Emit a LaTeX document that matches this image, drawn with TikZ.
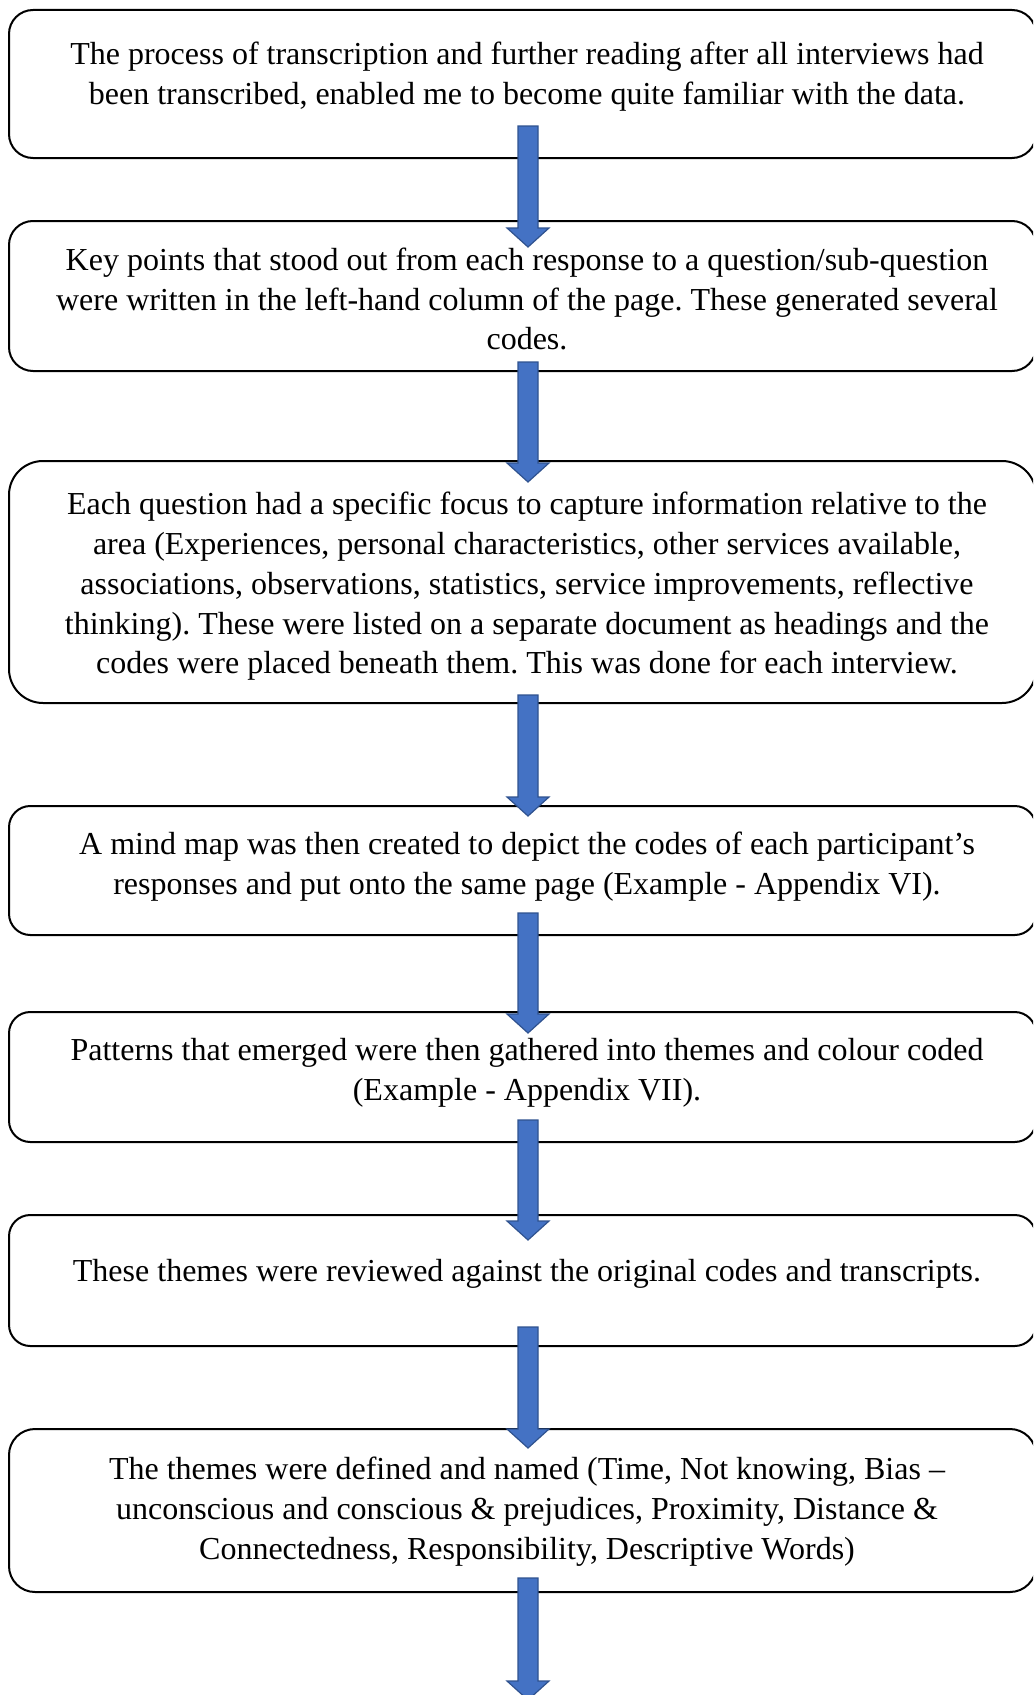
\documentclass[tikz,border=0pt]{standalone}
\usepackage{fontspec}
\setmainfont{Liberation Serif}
\usetikzlibrary{calc}
\definecolor{arrowfill}{HTML}{4472C4}
\definecolor{arrowline}{HTML}{2F528F}
\frenchspacing
\begin{document}
\begin{tikzpicture}[x=0.75pt,y=-0.75pt,
  stepbox/.style={draw=black, line width=1.5pt, fill=white, rectangle, minimum width=770.25pt, inner sep=0pt},
  steptext/.style={align=center, inner sep=0pt, font=\fontsize{24}{29.8}\selectfont},
  blockarrow/.style={draw=arrowline, line width=0.9pt, fill=arrowfill, line join=miter,
    to path={($(\tikztostart)+(-10,0)$) -- ($(\tikztotarget)+(-10,-19)$) -- ($(\tikztotarget)+(-21,-19)$) -- (\tikztotarget) -- ($(\tikztotarget)+(21,-19)$) -- ($(\tikztotarget)+(10,-19)$) -- ($(\tikztostart)+(10,0)$) -- cycle}}
]
\useasboundingbox (0,0) rectangle (1033,1695);
\clip (0,0) rectangle (1033,1695);

% boxes
\node[stepbox, rounded corners=18pt, minimum height=111pt] (b1) at (522.5,84) {};
\node[stepbox, rounded corners=18pt, minimum height=112.5pt] (b2) at (522.5,296) {};
\node[stepbox, rounded corners=25.5pt, minimum height=181.5pt] (b3) at (522.5,582) {};
\node[stepbox, rounded corners=16pt, minimum height=96.75pt] (b4) at (522.5,870.5) {};
\node[stepbox, rounded corners=16pt, minimum height=97.5pt] (b5) at (522.5,1077) {};
\node[stepbox, rounded corners=16pt, minimum height=98.25pt] (b6) at (522.5,1280.5) {};
\node[stepbox, rounded corners=19.5pt, minimum height=122.25pt] (b7) at (522.5,1510.5) {};

% arrow end points
\coordinate (a1s) at (528,126);  \coordinate (a1e) at (528,247);
\coordinate (a2s) at (528,362);  \coordinate (a2e) at (528,482);
\coordinate (a3s) at (528,695);  \coordinate (a3e) at (528,816);
\coordinate (a4s) at (528,913);  \coordinate (a4e) at (528,1033);
\coordinate (a5s) at (528,1120); \coordinate (a5e) at (528,1240);
\coordinate (a6s) at (528,1327); \coordinate (a6e) at (528,1448);
\coordinate (a7s) at (528,1578); \coordinate (a7e) at (528,1700);

\path[blockarrow] (a1s) to (a1e);
\path[blockarrow] (a2s) to (a2e);
\path[blockarrow] (a3s) to (a3e);
\path[blockarrow] (a4s) to (a4e);
\path[blockarrow] (a5s) to (a5e);
\path[blockarrow] (a6s) to (a6e);
\path[blockarrow] (a7s) to (a7e);

% texts
\node[steptext] (t1) at (527,77) {The process of transcription and further reading after all interviews had\\been transcribed, enabled me to become quite familiar with the data.};
\node[steptext] (t2) at (527,299) {Key points that stood out from each response to a question/sub-question\\were written in the left-hand column of the page. These generated several\\codes.};
\node[steptext] (t3) at (527,586.5) {Each question had a specific focus to capture information relative to the\\area (Experiences, personal characteristics, other services available,\\associations, observations, statistics, service improvements, reflective\\thinking). These were listed on a separate document as headings and the\\codes were placed beneath them. This was done for each interview.};
\node[steptext] (t4) at (527,867) {A mind map was then created to depict the codes of each participant’s\\responses and put onto the same page (Example - Appendix VI).};
\node[steptext] (t5) at (527,1072.5) {Patterns that emerged were then gathered into themes and colour coded\\(Example - Appendix VII).};
\node[steptext] (t6) at (527,1274) {These themes were reviewed against the original codes and transcripts.};
\node[steptext] (t7) at (527,1511.5) {The themes were defined and named (Time, Not knowing, Bias –\\unconscious and conscious \& prejudices, Proximity, Distance \&\\Connectedness, Responsibility, Descriptive Words)};
\end{tikzpicture}
\end{document}
